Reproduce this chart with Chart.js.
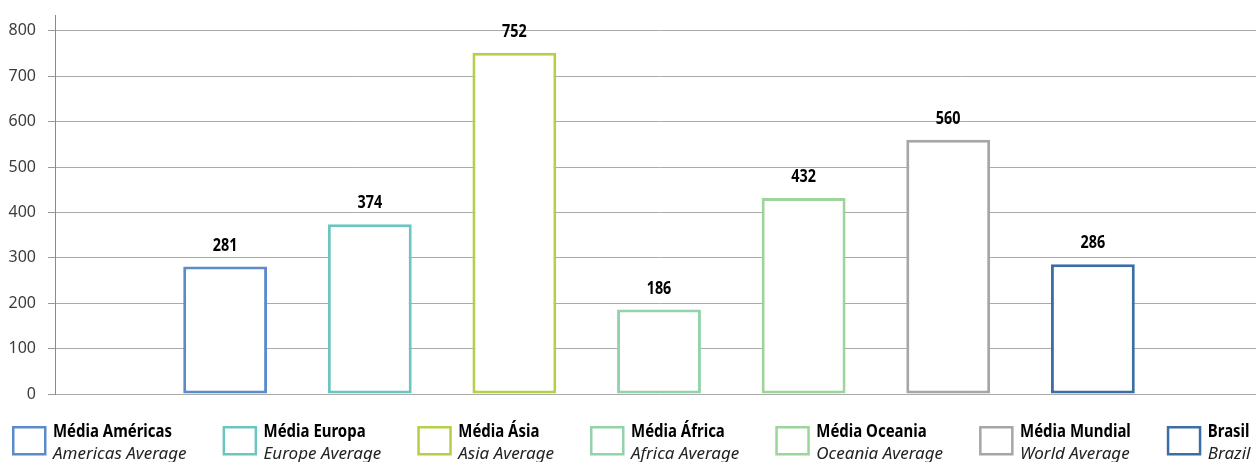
<!DOCTYPE html>
<html lang="pt">
<head>
<meta charset="utf-8">
<title>Médias regionais</title>
<script src="https://cdn.jsdelivr.net/npm/chart.js@4.4.1/dist/chart.umd.min.js"></script>
<style>
    html, body { margin: 0; padding: 0; background: #fff; overflow: hidden; }
    #wrap { position: absolute; left: 0; top: 0; width: 1266px; height: 462px; }
</style>
</head>
<body>
<div id="wrap"><canvas id="mediaChart"></canvas></div>
<script>
const seriesPt = ['Média Américas', 'Média Europa', 'Média Ásia', 'Média África', 'Média Oceania', 'Média Mundial', 'Brasil'];
const seriesEn = ['Americas Average', 'Europe Average', 'Asia Average', 'Africa Average', 'Oceania Average', 'World Average', 'Brazil'];
const values = [281, 374, 752, 186, 432, 560, 286];
const yTicks = [0, 100, 200, 300, 400, 500, 600, 700, 800];
const colors = ['#5b8bcb', '#6cc6c0', '#b4cf48', '#94d2aa', '#9cd49a', '#a6a6a6', '#3a6ea5'];

const sans = '"Noto Sans", "Open Sans", sans-serif';

// draws text squeezed horizontally, returns the drawn width
function narrowText(ctx, text, x, y, sx) {
    ctx.save();
    ctx.translate(x, y);
    ctx.scale(sx, 1);
    ctx.fillText(text, 0, 0);
    ctx.restore();
    return ctx.measureText(text).width * sx;
}

// value printed above each bar
const valueLabels = {
    id: 'valueLabels',
    afterDatasetsDraw(chart) {
        const ctx = chart.ctx;
        ctx.save();
        ctx.font = 'bold 18px ' + sans;
        ctx.fillStyle = '#000';
        ctx.textAlign = 'center';
        ctx.textBaseline = 'middle';
        chart.data.datasets.forEach((ds, i) => {
            const bar = chart.getDatasetMeta(i).data[0];
            narrowText(ctx, String(ds.data[0]), bar.x, bar.y - 21, 0.8);
        });
        ctx.restore();
    }
};

// two-line legend (portuguese bold, english italic)
const bilingualLegend = {
    id: 'bilingualLegend',
    afterDraw(chart) {
        const ctx = chart.ctx;
        const top = 426;
        let x = 12;
        ctx.save();
        ctx.textAlign = 'left';
        ctx.textBaseline = 'alphabetic';
        seriesPt.forEach((name, i) => {
            ctx.lineWidth = 2.5;
            ctx.strokeStyle = colors[i];
            ctx.strokeRect(x + 1.25, top + 1.25, 32, 27);

            ctx.fillStyle = '#000';
            ctx.font = 'bold 17px ' + sans;
            const w1 = narrowText(ctx, name, x + 41, 437, 0.88);

            ctx.fillStyle = '#222';
            ctx.font = 'italic 17px ' + sans;
            const w2 = narrowText(ctx, seriesEn[i], x + 41, 459, 1.0);

            x += 41 + Math.max(w1, w2) + 36;
        });
        ctx.restore();
    }
};

const ctx = document.getElementById('mediaChart').getContext('2d');
new Chart(ctx, {
    type: 'bar',
    data: {
        labels: [''],
        datasets: seriesPt.map((name, i) => ({
            label: name,
            data: [values[i]],
            backgroundColor: '#fff',
            borderColor: colors[i],
            borderWidth: 3,
            borderSkipped: false,
            categoryPercentage: 0.838,
            barPercentage: 0.58
        }))
    },
    options: {
        responsive: true,
        maintainAspectRatio: false,
        animation: false,
        layout: {
            padding: { top: 15, bottom: 68, left: 0, right: 3 }
        },
        plugins: {
            legend: { display: false },
            tooltip: { enabled: false }
        },
        scales: {
            x: {
                display: false
            },
            y: {
                min: 0,
                max: 835,
                afterBuildTicks: scale => {
                    scale.ticks = yTicks.map(v => ({ value: v }));
                },
                afterFit: scale => {
                    scale.width = 55;
                    scale.paddingTop = 0;
                    scale.paddingBottom = 0;
                },
                border: { display: true, color: '#8a8a8a', width: 1 },
                grid: {
                    color: '#aaaaaa',
                    lineWidth: 1,
                    tickLength: 7,
                    tickColor: '#9a9a9a'
                },
                ticks: {
                    padding: 12,
                    color: '#3c3c3c',
                    font: { family: sans, size: 16 }
                }
            }
        }
    },
    plugins: [valueLabels, bilingualLegend]
});
</script>
</body>
</html>
